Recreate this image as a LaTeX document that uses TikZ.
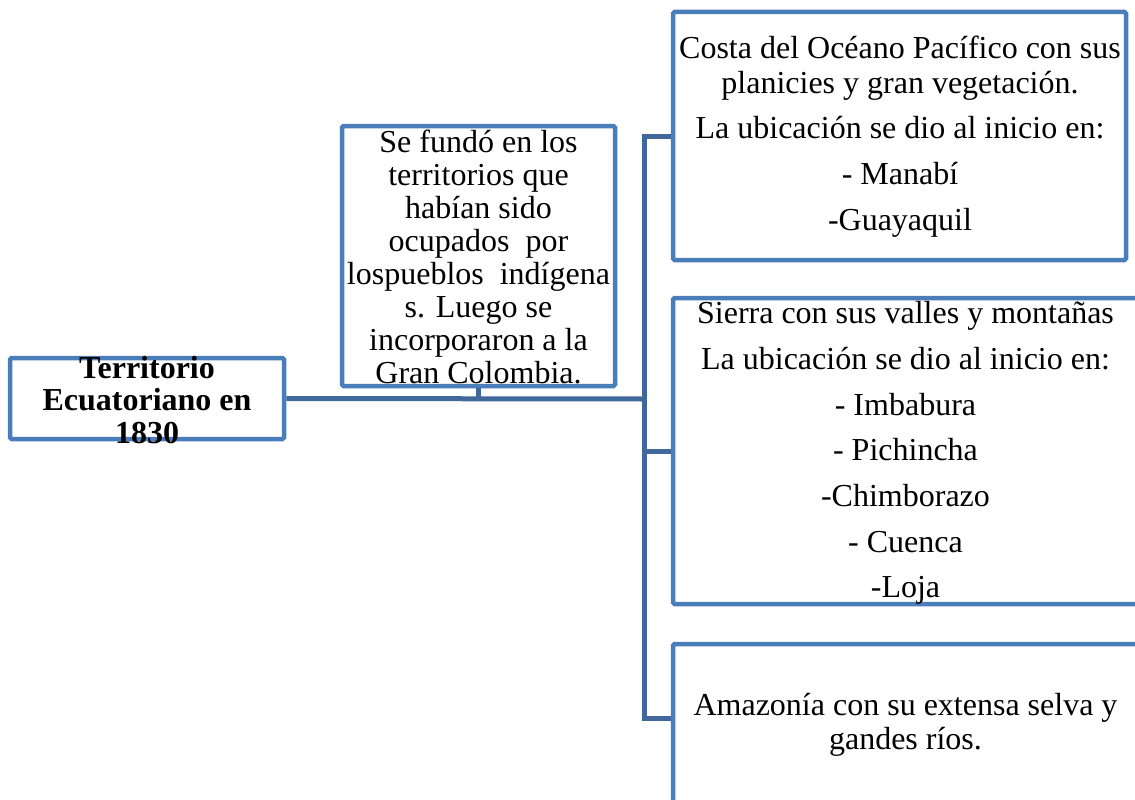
\documentclass[tikz,border=0pt]{standalone}
\usepackage{fontspec}
\setmainfont{Liberation Serif}
\definecolor{boxblue}{HTML}{4A7EBB}
\definecolor{linkblue}{HTML}{41689B}
\tikzset{
  box/.style={draw=boxblue, line width=4.5pt, rounded corners=1.5pt, inner sep=0pt, fill=white},
  txt/.style={inner sep=0pt, align=center, text=black},
  link/.style={draw=linkblue, line width=5pt, line join=miter},
}
\begin{document}
\begin{tikzpicture}[x=1pt,y=-1pt]
\useasboundingbox (0,0) rectangle (1135,800);
\clip (0,0) rectangle (1135,800);
% connector junctions
\coordinate (J) at (644,399);
\coordinate (T3) at (644,718);
% boxes
\node[box, minimum width=274, minimum height=81] (L) at (147,398.5) {};
\node[box, minimum width=273, minimum height=260] (M) at (478.5,256) {};
\node[box, minimum width=453, minimum height=248] (B1) at (899.5,136) {};
\node[box, minimum width=467, minimum height=306] (B2) at (906.5,451) {};
\node[box, minimum width=467, minimum height=164] (B3) at (906.5,726) {};
\draw[link] (L.east) -- (J);
\draw[link] (M.south) -- (M.south |- J);
\draw[link] (B1.west) -- (B1.west -| J) -- (T3) -- (T3 -| B3.west);
\draw[link] (B2.west -| J) -- (B2.west);
% texts
\node[txt, font=\bfseries\fontsize{32}{32.5}\selectfont] (Lt) at (147,400) {Territorio\\Ecuatoriano en\\1830};
\node[txt, font=\fontsize{32}{33}\selectfont] (Mt) at (478.5,257) {Se fundó en los\\territorios que\\habían sido\\ocupados\ \ por\\lospueblos\ \ indígena\\s. Luego se\\incorporaron a la\\Gran Colombia.};
\node[txt, font=\fontsize{32}{35}\selectfont] (B1t) at (900,137) {Costa del Océano Pacífico con sus\\planicies y gran vegetación.\\[10pt]La ubicación se dio al inicio en:\\[11pt]- Manabí\\[11pt]-Guayaquil};
\node[txt, font=\fontsize{32}{45.7}\selectfont] (B2t) at (905.5,453) {Sierra con sus valles y montañas\\La ubicación se dio al inicio en:\\- Imbabura\\- Pichincha\\-Chimborazo\\- Cuenca\\-Loja};
\node[txt, font=\fontsize{32}{34}\selectfont] (B3t) at (905.5,725) {Amazonía con su extensa selva y\\gandes ríos.};
\end{tikzpicture}
\end{document}
